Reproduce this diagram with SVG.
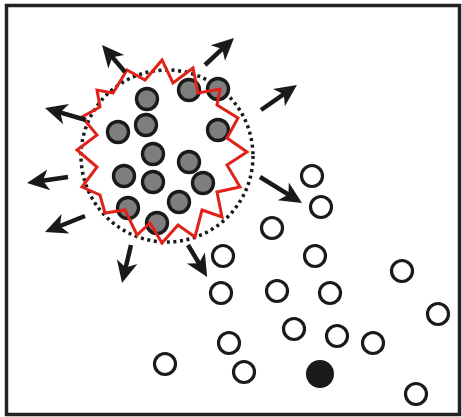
<svg xmlns="http://www.w3.org/2000/svg" width="462" height="417" viewBox="0 0 462 417">
  <style>
    .frame { fill: #ffffff; stroke: #222222; stroke-width: 3.5; }
    .bound { fill: none; stroke: #1a1a1a; stroke-width: 3.5; stroke-dasharray: 3 3.6; }
    .front { fill: none; stroke: #e02218; stroke-width: 3; stroke-linejoin: miter; stroke-miterlimit: 10; }
    .inner { fill: #7e7e7e; stroke: #1a1a1a; stroke-width: 3.4; }
    .outer { fill: #ffffff; stroke: #1a1a1a; stroke-width: 3.2; }
    .solid { fill: #1a1a1a; }
    .flow { stroke: #1a1a1a; stroke-width: 4.5; fill: none; marker-end: url(#head); }
  </style>
  <defs>
    <marker id="head" markerUnits="userSpaceOnUse" viewBox="-24 -12 25 24" refX="-12" refY="0" markerWidth="25" markerHeight="24" orient="auto">
      <path d="M0,0 L-22,-10.5 L-16,0 L-22,10.5 Z" fill="#1a1a1a"/>
    </marker>
  </defs>

  <rect class="frame" x="6.5" y="5.5" width="453" height="409"/>

  <!-- dotted boundary of the cluster -->
  <circle id="boundary" class="bound" cx="167" cy="156" r="86"/>

  <!-- grey particles inside the cluster -->
  <g id="cluster">
    <circle class="inner" cx="147" cy="99" r="10.5"/>
    <circle class="inner" cx="189" cy="90" r="10.5"/>
    <circle class="inner" cx="218" cy="89" r="10.5"/>
    <circle class="inner" cx="118" cy="132" r="10.5"/>
    <circle class="inner" cx="146" cy="125" r="10.5"/>
    <circle class="inner" cx="218" cy="130" r="10.5"/>
    <circle class="inner" cx="153" cy="154" r="10.5"/>
    <circle class="inner" cx="189" cy="162" r="10.5"/>
    <circle class="inner" cx="124" cy="176" r="10.5"/>
    <circle class="inner" cx="153" cy="182" r="10.5"/>
    <circle class="inner" cx="203" cy="183" r="10.5"/>
    <circle class="inner" cx="179" cy="202" r="10.5"/>
    <circle class="inner" cx="128" cy="208" r="10.5"/>
    <circle class="inner" cx="157" cy="223" r="10.5"/>
  </g>

  <!-- jagged front -->
  <polygon id="front" class="front" points="162,60 173,83 193,68 198,93 220,89 217,105 238,118 227,138 247,152 227,165 240,187 217,192 222,217 202,210 195,237 178,225 162,243 150,223 137,235 125,210 105,213 100,195 82,187 97,167 77,150 97,135 82,117 100,107 97,90 113,93 127,70 145,80"/>

  <!-- outward arrows -->
  <g id="arrows">
    <line class="flow" x1="125" y1="72" x2="109.8" y2="54.1"/>
    <line class="flow" x1="205" y1="65" x2="225.2" y2="46.2"/>
    <line class="flow" x1="86" y1="120" x2="56.5" y2="111.4"/>
    <line class="flow" x1="68" y1="177" x2="38.9" y2="181.3"/>
    <line class="flow" x1="85" y1="216" x2="56.2" y2="227.5"/>
    <line class="flow" x1="261" y1="110" x2="287.1" y2="91.9"/>
    <line class="flow" x1="260" y1="177" x2="291.8" y2="196.7"/>
    <line class="flow" x1="131" y1="245" x2="124.8" y2="271.3"/>
    <line class="flow" x1="188" y1="245" x2="201" y2="266.6"/>
  </g>

  <!-- open particles outside the cluster -->
  <g id="scatter">
    <circle class="outer" cx="312" cy="176" r="10.5"/>
    <circle class="outer" cx="321" cy="207" r="10.5"/>
    <circle class="outer" cx="272" cy="228" r="10.5"/>
    <circle class="outer" cx="223" cy="256" r="10.5"/>
    <circle class="outer" cx="315" cy="256" r="10.5"/>
    <circle class="outer" cx="402" cy="271" r="10.5"/>
    <circle class="outer" cx="221" cy="293" r="10.5"/>
    <circle class="outer" cx="277" cy="291" r="10.5"/>
    <circle class="outer" cx="330" cy="293" r="10.5"/>
    <circle class="outer" cx="438" cy="314" r="10.5"/>
    <circle class="outer" cx="294" cy="329" r="10.5"/>
    <circle class="outer" cx="337" cy="336" r="10.5"/>
    <circle class="outer" cx="373" cy="343" r="10.5"/>
    <circle class="outer" cx="229" cy="343" r="10.5"/>
    <circle class="outer" cx="244" cy="372" r="10.5"/>
    <circle class="outer" cx="416" cy="394" r="10.5"/>
    <circle class="outer" cx="165" cy="364" r="10.5"/>
  </g>

  <circle id="seed" class="solid" cx="320" cy="374" r="14"/>
</svg>
